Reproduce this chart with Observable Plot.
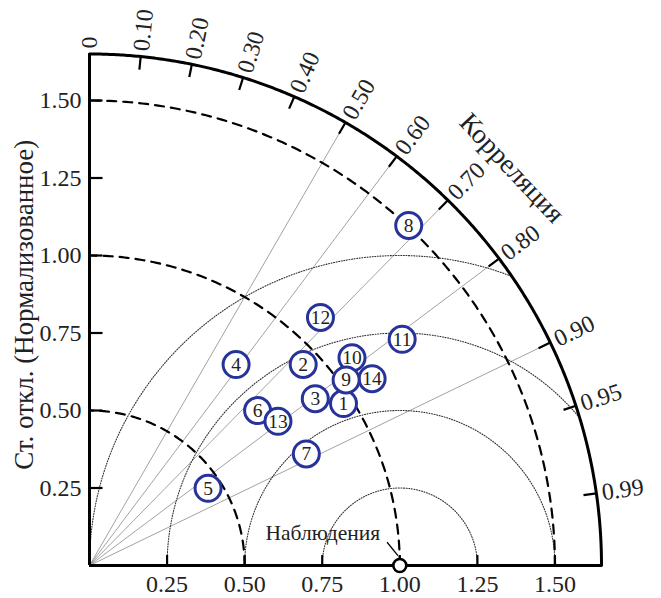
<!DOCTYPE html>
<html>
<head>
<meta charset="utf-8">
<script src="https://cdn.jsdelivr.net/npm/d3@7"></script>
<script src="https://cdn.jsdelivr.net/npm/@observablehq/plot@0.6"></script>
<style>
  body { margin: 0; background: #fff; }
  #chart svg { display: block; }
</style>
</head>
<body>
<div id="chart"></div>
<script>
// Taylor diagram: normalized standard deviation vs. correlation with observations
const models  = ["1", "2", "3", "4", "5", "6", "7", "8", "9", "10", "11", "12", "13", "14"];
const stdDev  = [0.971, 0.946, 0.905, 0.802, 0.456, 0.737, 0.786, 1.504, 1.021, 1.079, 1.244, 1.093, 0.765, 1.092];
const corr    = [0.843, 0.728, 0.804, 0.589, 0.838, 0.735, 0.889, 0.684, 0.810, 0.784, 0.810, 0.681, 0.794, 0.834];
const onTop   = ["9"];                  // circles drawn last where they overlap

const stdTicks   = [0.25, 0.50, 0.75, 1.00, 1.25, 1.50];
const corrTicks  = [0, 0.10, 0.20, 0.30, 0.40, 0.50, 0.60, 0.70, 0.80, 0.90, 0.95, 0.99];
const corrRays   = [0.50, 0.60, 0.70, 0.80, 0.90];
const stdRings   = [0.50, 1.00, 1.50];
const rmsRings   = [0.25, 0.50, 0.75, 1.00];
const maxStd     = 1.65;
const refStd     = 1.00;

const yTitle     = "Ст. откл. (Нормализованное)";
const corrTitle  = "Корреляция";
const refTitle   = "Наблюдения";

const serif = "'Liberation Serif', 'Times New Roman', serif";
const deg = Math.PI / 180;
const sinOf = c => Math.sqrt(Math.max(0, 1 - c * c));
const fmt2 = d3.format(".2f");

// model rows in polar -> cartesian form
const rows = models.map((m, i) => ({
  model: m,
  x: stdDev[i] * corr[i],
  y: stdDev[i] * sinOf(corr[i])
}));
const drawRows = [...rows.filter(d => !onTop.includes(d.model)), ...rows.filter(d => onTop.includes(d.model))];

// circles of constant standard deviation (centered on the origin)
const stdArcPts = stdRings.flatMap(r =>
  d3.range(0, 90.001, 0.5).map(a => ({r, x: r * Math.cos(a * deg), y: r * Math.sin(a * deg)})));
const outerArcPts = d3.range(0, 90.001, 0.25).map(a => ({x: maxStd * Math.cos(a * deg), y: maxStd * Math.sin(a * deg)}));

// circles of constant centered RMS difference (centered on the reference point)
const rmsArcPts = rmsRings.flatMap(R => {
  const pts = [];
  for (let a = 0; a <= 180.0001; a += 0.25) {
    const x = refStd + R * Math.cos(a * deg), y = R * Math.sin(a * deg);
    if (Math.hypot(x, y) <= maxStd + 1e-9 && x >= -1e-9) pts.push({R, x, y});
  }
  return pts;
});

const blue = "#27339a";
const tickIn = 0.042;

const chart = Plot.plot({
  width: 661,
  height: 598,
  marginLeft: 89,
  marginRight: 60,
  marginTop: 53.5,
  marginBottom: 33,
  x: {domain: [0, maxStd], axis: null},
  y: {domain: [0, maxStd], axis: null},
  style: {fontFamily: serif, background: "#fff", color: "#222"},
  marks: [
    // correlation rays
    Plot.link(corrRays, {
      x1: 0, y1: 0,
      x2: c => maxStd * c, y2: c => maxStd * sinOf(c),
      stroke: "#8a8a8a", strokeWidth: 0.8
    }),
    // RMS difference arcs
    Plot.line(rmsArcPts, {x: "x", y: "y", z: "R", stroke: "#333", strokeWidth: 1.1, strokeDasharray: "1,1.6"}),
    // standard deviation arcs
    Plot.line(stdArcPts, {x: "x", y: "y", z: "r", stroke: "#000", strokeWidth: 2.2, strokeDasharray: "9,7"}),
    // frame: axes and outer arc
    Plot.ruleX([0], {y1: 0, y2: maxStd, stroke: "#000", strokeWidth: 3}),
    Plot.ruleY([0], {x1: 0, x2: maxStd, stroke: "#000", strokeWidth: 3}),
    Plot.line(outerArcPts, {x: "x", y: "y", stroke: "#000", strokeWidth: 3}),
    // inward ticks
    Plot.link(stdTicks, {x1: 0, x2: tickIn, y1: d => d, y2: d => d, stroke: "#000", strokeWidth: 2.2}),
    Plot.link(stdTicks, {x1: d => d, x2: d => d, y1: 0, y2: tickIn * 0.8, stroke: "#000", strokeWidth: 2.2}),
    Plot.link(corrTicks, {
      x1: c => (maxStd - tickIn) * c, y1: c => (maxStd - tickIn) * sinOf(c),
      x2: c => maxStd * c, y2: c => maxStd * sinOf(c),
      stroke: "#000", strokeWidth: 2.2
    }),
    // tick labels
    Plot.text(stdTicks, {x: 0, y: d => d, text: fmt2, textAnchor: "end", dx: -8, fontSize: 24, fill: "#222"}),
    Plot.text(stdTicks, {x: d => d, y: 0, text: fmt2, lineAnchor: "top", dy: 9, fontSize: 24, fill: "#222"}),
    Plot.text(corrTicks, {
      x: c => (maxStd + 0.018) * c, y: c => (maxStd + 0.018) * sinOf(c),
      text: c => c === 0 ? "0" : fmt2(c),
      rotate: c => -Math.acos(c) / deg,
      textAnchor: "start", fontSize: 24, fill: "#222"
    }),
    // titles
    Plot.text([corrTitle], {
      x: () => 1.87 * 0.728, y: () => 1.87 * sinOf(0.728),
      rotate: 90 - Math.acos(0.728) / deg,
      fontSize: 27.5, fill: "#222"
    }),
    Plot.text([yTitle], {frameAnchor: "left", textAnchor: "middle", rotate: -90, dx: -65, dy: -5, fontSize: 27, fill: "#222"}),
    // reference (observations) point and its label
    Plot.link([refStd], {
      x1: d => d - 0.041, y1: 0.075, x2: d => d - 0.006, y2: 0.032,
      stroke: "#000", strokeWidth: 1.3
    }),
    Plot.text([refTitle], {x: refStd, y: 0, dx: -77, dy: -32, fontSize: 21.5, fill: "#222"}),
    Plot.dot([refStd], {x: d => d, y: 0, r: 6.5, stroke: "#000", strokeWidth: 2.6, fill: "#fff"}),
    // models
    Plot.dot(drawRows, {x: "x", y: "y", r: 13, stroke: blue, strokeWidth: 3, fill: "#fff"}),
    Plot.text(drawRows, {x: "x", y: "y", text: "model", fontSize: 19.5, fill: "#222"})
  ]
});

document.getElementById("chart").appendChild(chart);
</script>
</body>
</html>
